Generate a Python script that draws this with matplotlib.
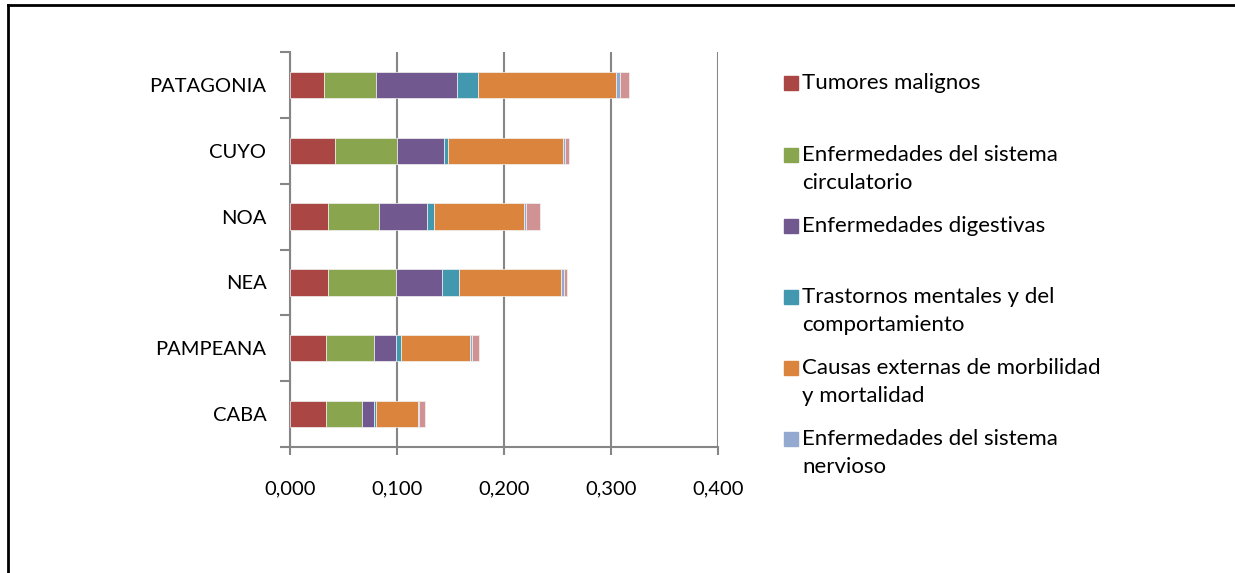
import numpy as np
import matplotlib.pyplot as plt
from matplotlib.patches import Rectangle
from matplotlib.lines import Line2D

plt.rcParams['font.family'] = ['Lato', 'DejaVu Sans']

# datos (de abajo hacia arriba)
regiones = ['CABA', 'PAMPEANA', 'NEA', 'NOA', 'CUYO', 'PATAGONIA']
tumores = [0.0340, 0.0336, 0.0355, 0.0358, 0.0420, 0.0320]
circulatorio = [0.0330, 0.0446, 0.0639, 0.0470, 0.0580, 0.0486]
digestivas = [0.0118, 0.0212, 0.0423, 0.0452, 0.0440, 0.0754]
mentales = [0.0013, 0.0043, 0.0166, 0.0066, 0.0038, 0.0196]
externas = [0.0399, 0.0648, 0.0953, 0.0844, 0.1074, 0.1290]
nervioso = [0.0009, 0.0019, 0.0025, 0.0019, 0.0016, 0.0040]
otras = [0.0050, 0.0062, 0.0031, 0.0124, 0.0037, 0.0080]

series = [tumores, circulatorio, digestivas, mentales, externas, nervioso, otras]
nombres = ['Tumores malignos',
           'Enfermedades del sistema\ncirculatorio',
           'Enfermedades digestivas',
           'Trastornos mentales y del\ncomportamiento',
           'Causas externas de morbilidad\ny mortalidad',
           'Enfermedades del sistema\nnervioso',
           'Otras']
colores = ['#AA4643', '#89A54E', '#71588F', '#4198AF', '#DB843D', '#93A9CF', '#D09292']
ticks_x = [0.0, 0.1, 0.2, 0.3, 0.4]

W, H = 1235, 573
fig = plt.figure(figsize=(W / 100, H / 100), dpi=100)
ax = fig.add_axes([290 / W, 1 - 447 / H, 428 / W, 395 / H])

y = np.arange(len(regiones))
left = np.zeros(len(regiones))
for vals, col in zip(series, colores):
    ax.barh(y, vals, left=left, height=0.4, color=col, edgecolor='#f2f2f2',
            linewidth=0.5, zorder=3)
    left += np.array(vals)

ax.set_xlim(0, 0.4)
ax.set_ylim(-0.5, len(regiones) - 0.5)
ax.set_xticks(ticks_x)
ax.set_xticklabels([('%.3f' % t).replace('.', ',') for t in ticks_x], fontsize=14.5)
ax.set_yticks(y)
ax.set_yticklabels(regiones, fontsize=14.5)
ax.set_yticks(np.arange(-0.5, len(regiones)), minor=True)
ax.tick_params(axis='y', which='major', length=0, pad=17)
ax.tick_params(axis='y', which='minor', length=7, width=1.5, color='#868686')
ax.tick_params(axis='x', length=6, width=1.5, color='#868686', pad=18)
ax.grid(axis='x', color='#868686', linewidth=1.5, zorder=0)
for s in ['top', 'right']:
    ax.spines[s].set_visible(False)
for s in ['left', 'bottom']:
    ax.spines[s].set_color('#868686')
    ax.spines[s].set_linewidth(1.5)

# leyenda (solo las 6 primeras series)
y_ent = [83, 155, 226, 297, 368, 439]
for nom, col, yc in zip(nombres[:6], colores[:6], y_ent):
    fig.patches.append(Rectangle((784 / W, 1 - (yc + 7) / H), 14 / W, 14 / H,
                                 color=col, transform=fig.transFigure))
    for i, linea in enumerate(nom.split('\n')):
        fig.text(802 / W, 1 - (yc + 28 * i) / H, linea, fontsize=16,
                 va='center', ha='left')

# marco (solo se ven los bordes superior e izquierdo)
fig.add_artist(Line2D([7.5 / W, 1.0], [1 - 5 / H, 1 - 5 / H], color='black',
                      linewidth=2, transform=fig.transFigure))
fig.add_artist(Line2D([7.5 / W, 7.5 / W], [0.0, 1 - 5 / H], color='black',
                      linewidth=2, transform=fig.transFigure))

fig.savefig('out.png', dpi=100)
